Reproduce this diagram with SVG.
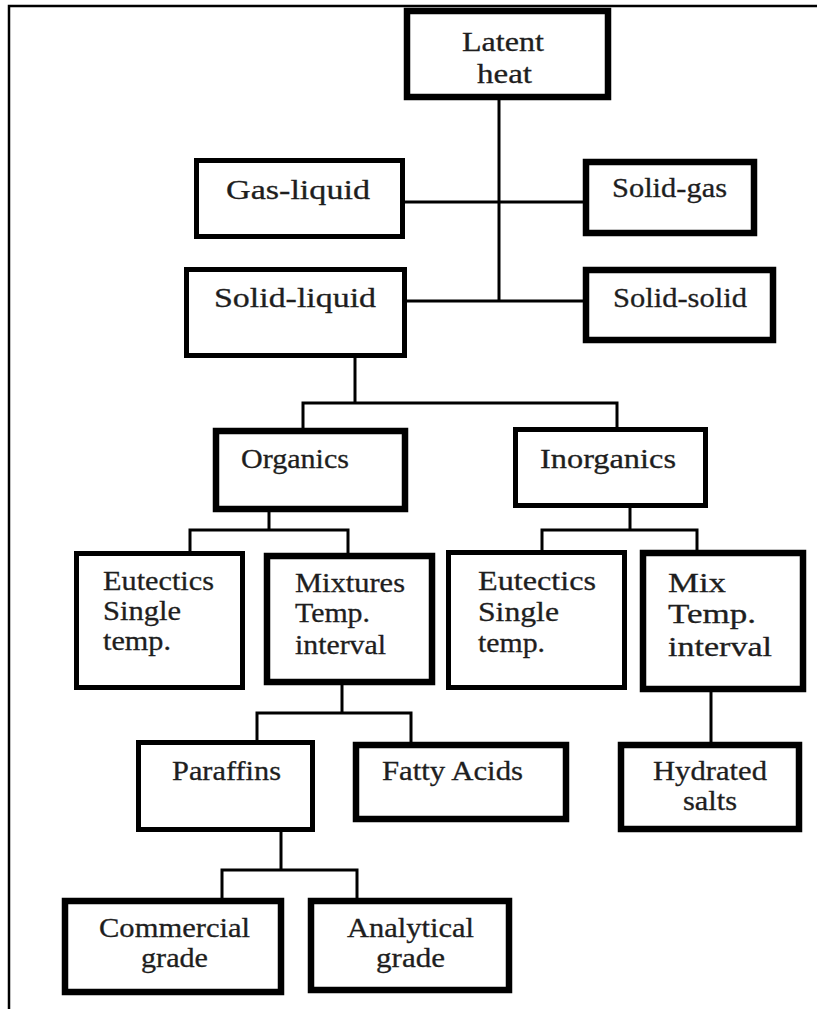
<svg xmlns="http://www.w3.org/2000/svg" width="817" height="1009" viewBox="0 0 817 1009">
<style>
.box{fill:#fff;stroke:#000;stroke-width:5}
.thick{stroke-width:6.5}
.conn{fill:none;stroke:#000;stroke-width:3;stroke-linejoin:miter}
.frame{fill:none;stroke:#000;stroke-width:2.5}
text{font-family:"Times New Roman","Liberation Serif","DejaVu Serif",serif;font-size:27px;fill:#1e1e1e;stroke:#1e1e1e;stroke-width:0.3}
</style>
<rect width="817" height="1009" fill="#fff"/>
<path class="frame" d="M9 1009 V6 H817"/>
<g id="connectors">
<path class="conn" d="M499 100 V301"/>
<path class="conn" d="M405 202 H583"/>
<path class="conn" d="M407 301 H583"/>
<path class="conn" d="M355 358 V403"/>
<path class="conn" d="M303 428 V403 H617 V427"/>
<path class="conn" d="M269 512 V530"/>
<path class="conn" d="M190 551 V530 H348 V553"/>
<path class="conn" d="M630 508 V530"/>
<path class="conn" d="M542 550 V530 H697 V550"/>
<path class="conn" d="M342 685 V713"/>
<path class="conn" d="M257 740 V713 H411 V742"/>
<path class="conn" d="M711 692 V742"/>
<path class="conn" d="M281 832 V870"/>
<path class="conn" d="M222 898 V870 H357 V898"/>
</g>
<g id="latent-heat">
<rect class="box thick" x="407" y="11" width="201" height="86"/>
<text x="462" y="51" textLength="82" lengthAdjust="spacingAndGlyphs">Latent</text>
<text x="477" y="83" textLength="55" lengthAdjust="spacingAndGlyphs">heat</text>
</g>
<g id="gas-liquid">
<rect class="box" x="196.5" y="160.5" width="206" height="76"/>
<text x="226" y="199" textLength="144" lengthAdjust="spacingAndGlyphs">Gas-liquid</text>
</g>
<g id="solid-gas">
<rect class="box thick" x="586" y="162" width="168" height="71"/>
<text x="612" y="197" textLength="115" lengthAdjust="spacingAndGlyphs">Solid-gas</text>
</g>
<g id="solid-liquid">
<rect class="box" x="186.5" y="269.5" width="218" height="86"/>
<text x="214" y="307" textLength="162" lengthAdjust="spacingAndGlyphs">Solid-liquid</text>
</g>
<g id="solid-solid">
<rect class="box thick" x="586" y="270" width="187" height="70"/>
<text x="613" y="307" textLength="134" lengthAdjust="spacingAndGlyphs">Solid-solid</text>
</g>
<g id="organics">
<rect class="box thick" x="216" y="431" width="189" height="78"/>
<text x="241" y="468" textLength="108" lengthAdjust="spacingAndGlyphs">Organics</text>
</g>
<g id="inorganics">
<rect class="box" x="515.5" y="429.5" width="190" height="76"/>
<text x="540" y="468" textLength="136" lengthAdjust="spacingAndGlyphs">Inorganics</text>
</g>
<g id="eutectics-organic">
<rect class="box" x="76.5" y="553.5" width="166" height="134"/>
<text x="103" y="590" textLength="111" lengthAdjust="spacingAndGlyphs">Eutectics</text>
<text x="103" y="620" textLength="78" lengthAdjust="spacingAndGlyphs">Single</text>
<text x="103" y="650" textLength="68" lengthAdjust="spacingAndGlyphs">temp.</text>
</g>
<g id="mixtures">
<rect class="box thick" x="267" y="556" width="165" height="126"/>
<text x="295" y="592" textLength="110" lengthAdjust="spacingAndGlyphs">Mixtures</text>
<text x="295" y="622" textLength="75" lengthAdjust="spacingAndGlyphs">Temp.</text>
<text x="295" y="654" textLength="91" lengthAdjust="spacingAndGlyphs">interval</text>
</g>
<g id="eutectics-inorganic">
<rect class="box" x="448.5" y="552.5" width="176" height="135"/>
<text x="478" y="590" textLength="118" lengthAdjust="spacingAndGlyphs">Eutectics</text>
<text x="478" y="621" textLength="81" lengthAdjust="spacingAndGlyphs">Single</text>
<text x="478" y="652" textLength="67" lengthAdjust="spacingAndGlyphs">temp.</text>
</g>
<g id="mix">
<rect class="box thick" x="643" y="553" width="160" height="136"/>
<text x="668" y="592" textLength="58" lengthAdjust="spacingAndGlyphs">Mix</text>
<text x="668" y="623" textLength="88" lengthAdjust="spacingAndGlyphs">Temp.</text>
<text x="668" y="656" textLength="104" lengthAdjust="spacingAndGlyphs">interval</text>
</g>
<g id="paraffins">
<rect class="box" x="138.5" y="742.5" width="174" height="87"/>
<text x="172" y="780" textLength="109" lengthAdjust="spacingAndGlyphs">Paraffins</text>
</g>
<g id="fatty-acids">
<rect class="box thick" x="356" y="745" width="210" height="74"/>
<text x="382" y="780" textLength="141" lengthAdjust="spacingAndGlyphs">Fatty Acids</text>
</g>
<g id="hydrated-salts">
<rect class="box thick" x="621" y="745" width="178" height="84"/>
<text x="653" y="780" textLength="114" lengthAdjust="spacingAndGlyphs">Hydrated</text>
<text x="683" y="810" textLength="54" lengthAdjust="spacingAndGlyphs">salts</text>
</g>
<g id="commercial-grade">
<rect class="box thick" x="65" y="901" width="216" height="91"/>
<text x="99" y="937" textLength="151" lengthAdjust="spacingAndGlyphs">Commercial</text>
<text x="141" y="967" textLength="67" lengthAdjust="spacingAndGlyphs">grade</text>
</g>
<g id="analytical-grade">
<rect class="box thick" x="311" y="901" width="198" height="89"/>
<text x="347" y="937" textLength="127" lengthAdjust="spacingAndGlyphs">Analytical</text>
<text x="376" y="967" textLength="69" lengthAdjust="spacingAndGlyphs">grade</text>
</g>
</svg>
